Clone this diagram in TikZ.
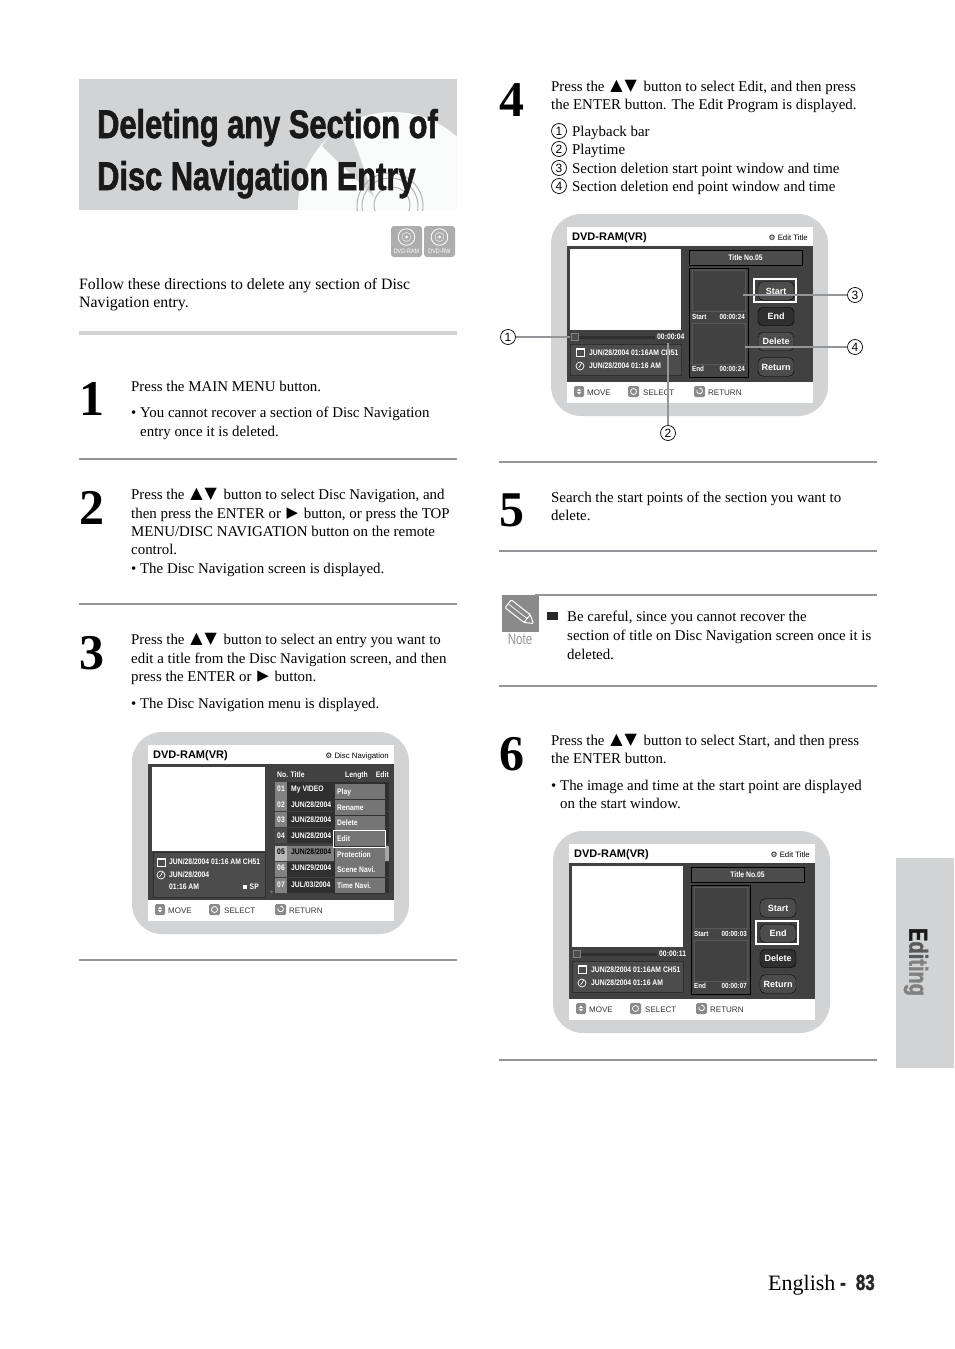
\documentclass[tikz,border=0pt]{standalone}
\usepackage{fontspec}
\usepackage{tikz}
\usepackage{xcolor}
\setmainfont{Liberation Serif}
\setsansfont{Liberation Sans}
\newfontfamily\symfont{DejaVu Sans}
\newfontfamily\condfont[FakeStretch=0.77,BoldFeatures={FakeBold=1.5}]{Liberation Sans}
\newfontfamily\scrfont[FakeStretch=0.85]{Liberation Sans}
\definecolor{bandgray}{HTML}{D1D3D4}
\definecolor{rulegray}{HTML}{939598}
\definecolor{panelgray}{HTML}{414141}
\definecolor{darkgray}{HTML}{2F2F2F}
\definecolor{midgray}{HTML}{4C4C4C}
\definecolor{keygray}{HTML}{8A8A8A}
\newcommand{\updown}{\hspace{2pt}\raisebox{1pt}{\symfont\fontsize{16}{16}\selectfont\char"25B2\hspace{2pt}\char"25BC}\hspace{3pt}}
\newcommand{\playmark}{\hspace{2pt}\raisebox{1pt}{\symfont\char"25B6}\hspace{2pt}}
% white page part of a screen, common to the three
\newcommand{\dvdframe}[2]{
  \fill[bandgray,rounded corners=30] (0,0) rectangle (277,202);
  \fill[white] (16,13) rectangle (262,189);
  \fill[panelgray] (16,32) rectangle (262,168);
  \node(#1title)[scr title] at (21,26) {DVD-RAM(VR)};
  \node(#1label)[scr label] at (257,26) {{\symfont\char"2699}\ #2};
  \fill[keygray,rounded corners=1.5] (23,172) rectangle (33,183);
  \fill[white] (28,174.5) -- (26,177) -- (30,177) -- cycle (28,180.5) -- (26,178) -- (30,178) -- cycle;
  \node(#1move)[scr foot] at (36,181) {MOVE};
  \fill[keygray,rounded corners=1.5] (77,172) rectangle (88,183);
  \draw[white,line width=.8] (82.5,177.5) circle (3);
  \node(#1select)[scr foot] at (92,181) {SELECT};
  \fill[keygray,rounded corners=1.5] (143,172) rectangle (154,183);
  \draw[white,line width=.8] (146,176) arc (200:-100:2.8);
  \node(#1return)[scr foot] at (157,181) {RETURN};
}
% little pictures in the info box
\newcommand{\calicon}[2]{
  \draw[white,line width=.7] (#1,#2) rectangle +(8,8);
  \fill[white] (#1,#2) rectangle +(8,2);
}
\newcommand{\clockicon}[2]{
  \draw[white,line width=.7] (#1,#2) circle (4);
  \draw[white,line width=.7] (#1,#2) -- +(1.5,-2.8) (#1,#2) -- +(-1.5,1.5);
}
% right part of the two Edit Title screens
\newcommand{\editpanel}[8]{
  \fill[white] (19,35) rectangle (130,116);
  \fill[darkgray] (27,122) rectangle (104,125);
  \draw[midgray!70!white,fill=midgray] (20,119.5) rectangle (27,126.5);
  \node(#1time)[scr small] at (106,125) {#2};
  \draw[darkgray,fill=midgray] (19,130) rectangle (130,161);
  \calicon{25}{134}
  \clockicon{29}{152}
  \node(#1infoa)[scr small] at (38,141) {JUN/28/2004 01:16AM CH51};
  \node(#1infob)[scr small] at (38,154) {JUN/28/2004 01:16 AM};
  \node(#1no)[scr head,minimum width=113,minimum height=15] at (194.5,43.5) {Title No.05};
  \draw[black,fill=darkgray!90!white] (138,54) rectangle (197,163);
  \draw[gray!70!black,line width=1,fill=panelgray] (141,56) rectangle (194,97);
  \draw[gray!70!black,line width=1,fill=panelgray] (141,109) rectangle (194,150);
  \node(#1start)[scr tiny] at (141,105) {Start};
  \node(#1startt)[scr tiny,anchor=base east] at (194,105) {#3};
  \node(#1end)[scr tiny] at (141,157) {End};
  \node(#1endt)[scr tiny,anchor=base east] at (194,157) {#4};
  \foreach \lab/\yy/\col in {Start/77/#5,End/102.5/#6,Delete/127.5/#7,Return/153/midgray}{
    \node(#1\lab)[scr btn,fill=\col] at (225,\yy) {\lab};
  }
  \draw[white,line width=1.5] (203,#8) rectangle +(42,23);
}
\begin{document}
\begin{tikzpicture}%
  [x=1pt,y=-1pt]
  \tikzstyle{body line}=[anchor=base west,inner sep=0,font=\fontsize{14.9}{17}\selectfont]
  \tikzstyle{big digit}=[anchor=base west,inner sep=0,font=\bfseries\fontsize{50}{50}\selectfont]
  \tikzstyle{head line}=[anchor=base west,inner sep=0,font=\condfont\bfseries\fontsize{40}{40}\selectfont,text=black!90]
  \tikzstyle{thin rule}=[draw=rulegray,line width=1.5]
  \tikzstyle{num node}=[circle,draw,line width=.7,inner sep=0,minimum size=15,font=\sffamily\fontsize{12}{12}\selectfont]
  \tikzstyle{lead line}=[draw=rulegray,line width=1.5]
  \tikzstyle{scr title}=[anchor=base west,inner sep=0,font=\sffamily\bfseries\fontsize{11}{11}\selectfont]
  \tikzstyle{scr label}=[anchor=base east,inner sep=0,font=\sffamily\fontsize{7.8}{8}\selectfont]
  \tikzstyle{scr foot}=[anchor=base west,inner sep=0,text=black!80,font=\sffamily\fontsize{8}{8}\selectfont]
  \tikzstyle{scr small}=[anchor=base west,inner sep=0,text=white,font=\scrfont\bfseries\fontsize{8}{8}\selectfont]
  \tikzstyle{scr tiny}=[anchor=base west,inner sep=0,text=white,font=\scrfont\bfseries\fontsize{7.4}{8}\selectfont]
  \tikzstyle{scr head}=[draw=black,fill=midgray,inner sep=0,text=white,font=\scrfont\bfseries\fontsize{8}{8}\selectfont]
  \tikzstyle{scr btn}=[draw=black,rounded corners=5,minimum width=36,minimum height=18.5,inner sep=0,text=white,font=\sffamily\bfseries\fontsize{9}{9}\selectfont]
  \useasboundingbox (0,0) rectangle (954,1349);
  \fill[white] (0,0) rectangle (954,1349);

  % heading band
  \fill[bandgray] (79,79) rectangle (457,210);
  \begin{scope}
    \clip (79,79) rectangle (457,210);
    \fill[white!90!bandgray] (393,207) circle (95);
    \fill[bandgray] (374,197) -- (322,146) -- (345,116) -- cycle;
    \draw[bandgray!85!black,line width=1] (390,206) circle (33) (390,206) circle (28) (392,205) circle (18);
  \end{scope}
  \node(headA)[head line] at (97,138) {Deleting any Section of};
  \node(headB)[head line] at (97,190) {Disc Navigation Entry};

  % disc badges
  \fill[keygray!70!white,rounded corners=3] (391,226) rectangle (422,257);
  \fill[keygray!70!white,rounded corners=3] (424,226) rectangle (455,257);
  \draw[white,line width=.8] (406.5,237) circle (8.3) (439.5,237) circle (8.3);
  \draw[white,line width=.4] (406.5,237) circle (4.5) (439.5,237) circle (4.5);
  \fill[white] (406.5,237) circle (1.5) (439.5,237) circle (1.5);
  \node(ram)[text=white,inner sep=0,font=\scrfont\fontsize{6.4}{6}\selectfont] at (406.5,251) {DVD-RAM};
  \node(rw)[text=white,inner sep=0,font=\scrfont\fontsize{6.4}{6}\selectfont] at (439.5,251) {DVD-RW};

  % left column
  \node(introA)[body line,font=\fontsize{15.8}{17}\selectfont] at (79,289) {Follow these directions to delete any section of Disc};
  \node(introB)[body line,font=\fontsize{15.8}{17}\selectfont] at (79,307) {Navigation entry.};
  \fill[bandgray] (79,331) rectangle (457,335);

  \node(one)[big digit] at (79,415) {1};
  \node(oneA)[body line] at (131,391) {Press the MAIN MENU button.};
  \node(oneB)[body line] at (131,417) {• You cannot recover a section of Disc Navigation};
  \node(oneC)[body line] at (140,436) {entry once it is deleted.};
  \draw[thin rule] (79,459) -- (457,459);

  \node(two)[big digit] at (79,524) {2};
  \node(twoA)[body line] at (131,499) {Press the \updown\ button to select Disc Navigation, and};
  \node(twoB)[body line] at (131,518) {then press the ENTER or \playmark\ button, or press the TOP};
  \node(twoC)[body line] at (131,536) {MENU/DISC NAVIGATION button on the remote};
  \node(twoD)[body line] at (131,554) {control.};
  \node(twoE)[body line] at (131,573) {• The Disc Navigation screen is displayed.};
  \draw[thin rule] (79,604) -- (457,604);

  \node(three)[big digit] at (79,669) {3};
  \node(threeA)[body line] at (131,644) {Press the \updown\ button to select an entry you want to};
  \node(threeB)[body line] at (131,663) {edit a title from the Disc Navigation screen, and then};
  \node(threeC)[body line] at (131,681) {press the ENTER or \playmark\ button.};
  \node(threeD)[body line] at (131,708) {• The Disc Navigation menu is displayed.};

  % screen of step 3
  \begin{scope}[shift={(132,732)}]
    \dvdframe{nav}{Disc Navigation}
    \fill[white] (20,35) rectangle (133,119);
    \draw[darkgray,fill=midgray] (21,120) rectangle (133,165);
    \calicon{25}{126}
    \clockicon{29}{143}
    \node(navinfoa)[scr small] at (37,132) {JUN/28/2004 01:16 AM CH51};
    \node(navinfob)[scr small] at (37,145) {JUN/28/2004};
    \node(navinfoc)[scr small] at (37,157) {01:16 AM};
    \node(navsp)[scr small,anchor=base east] at (127,157) {SP};
    \fill[white] (111,153) rectangle (115,157);
    \fill[gray] (138,159) -- (141,159) -- (139.5,161) -- cycle;
    \node(navno)[scr small] at (145,45) {No. Title};
    \node(navlen)[scr small] at (213,45) {Length};
    \node(navedit)[scr small,anchor=base east] at (257,45) {Edit};
    \foreach \no/\ttl/\yy/\bb/\cn/\ct/\ce in {01/My VIDEO/50/59/midgray!70!white/darkgray/white,
      02/{JUN/28/2004}/64/75/midgray!70!white/darkgray/white,
      03/{JUN/28/2004}/80/90/midgray!70!white/darkgray/white,
      04/{JUN/28/2004}/96/106/midgray/darkgray/white,
      05/{JUN/28/2004}/114/122/gray!55!white/gray/black,
      06/{JUN/29/2004}/130/138/midgray!70!white/darkgray/white,
      07/{JUL/03/2004}/146/155/midgray!70!white/darkgray/white}{
      \fill[\cn] (143,\yy) rectangle +(12,14.5);
      \fill[\ct] (155,\yy) rectangle +(102,14.5);
      \node(navn\no)[scr small,anchor=base,text=\ce] at (149,\bb) {\no};
      \node(navt\no)[scr small,text=\ce] at (159,\bb) {\ttl};
    }
    \fill[gray!70!white] (253,114) rectangle (257,129);
    \fill[darkgray] (202,51) rectangle (253,162);
    \foreach \item/\yy/\bb in {Play/52/62,Rename/68/78,Delete/84/93,Edit/99/109,Protection/115/125,Scene Navi./130/140,Time Navi./146/156}{
      \fill[keygray!85!black] (202.5,\yy) rectangle +(50,14.5);
      \node(navm\item)[scr small] at (205,\bb) {\item};
    }
    \draw[white,line width=1] (201,98) rectangle (253,115);
  \end{scope}
  \draw[thin rule] (79,960) -- (457,960);

  % right column
  \node(four)[big digit] at (499,116) {4};
  \node(fourA)[body line] at (551,91) {Press the \updown\ button to select Edit, and then press};
  \node(fourB)[body line] at (551,109) {the ENTER button. The Edit Program is displayed.};
  \node(listA)[num node] at (559,131) {1};
  \node(listB)[num node] at (559,149) {2};
  \node(listC)[num node] at (559,168) {3};
  \node(listD)[num node] at (559,186) {4};
  \node(listAt)[body line] at (572,136) {Playback bar};
  \node(listBt)[body line] at (572,154) {Playtime};
  \node(listCt)[body line] at (572,173) {Section deletion start point window and time};
  \node(listDt)[body line] at (572,191) {Section deletion end point window and time};

  % screen of step 4
  \begin{scope}[shift={(551,214)}]
    \dvdframe{del}{Edit Title}
    \editpanel{del}{00:00:04}{00:00:24}{00:00:24}{midgray}{darkgray}{midgray}{65}
    \coordinate (barend) at (19,124);
    \coordinate (timepnt) at (117,129);
    \coordinate (startpnt) at (192,81);
    \coordinate (endpnt) at (194,133);
  \end{scope}
  \node(mark1)[num node] at (508,337) {1};
  \node(mark2)[num node] at (668,433) {2};
  \node(mark3)[num node] at (855,295) {3};
  \node(mark4)[num node] at (855,347) {4};
  \draw[lead line] (mark1) -- (mark1 -| barend);
  \draw[lead line] (mark2) -- (mark2 |- timepnt);
  \draw[lead line] (mark3) -- (mark3 -| startpnt);
  \draw[lead line] (mark4) -- (mark4 -| endpnt);
  \draw[thin rule] (499,462) -- (877,462);

  \node(five)[big digit] at (499,526) {5};
  \node(fiveA)[body line] at (551,502) {Search the start points of the section you want to};
  \node(fiveB)[body line] at (551,520) {delete.};
  \draw[thin rule] (499,551) -- (877,551);

  % note
  \fill[keygray] (502,595) rectangle (539,632);
  \draw[thin rule] (535,595) -- (877,595);
  \begin{scope}[shift={(520,613)},rotate=-38]
    \draw[white,line width=1,rounded corners=1] (-15,-5) rectangle (9,5) (9,-5) -- (17,0) -- (9,5);
    \draw[white,line width=.7] (-15,0) -- (9,0);
  \end{scope}
  \node(noteword)[anchor=base,inner sep=0,text=rulegray,font=\condfont\fontsize{15}{15}\selectfont] at (520,644) {Note};
  \fill[black!85] (547,612) rectangle (558,620);
  \node(noteA)[body line] at (567,621) {Be careful, since you cannot recover the};
  \node(noteB)[body line] at (567,640) {section of title on Disc Navigation screen once it is};
  \node(noteC)[body line] at (567,659) {deleted.};
  \draw[thin rule] (499,686) -- (877,686);

  \node(six)[big digit] at (499,770) {6};
  \node(sixA)[body line] at (551,745) {Press the \updown\ button to select Start, and then press};
  \node(sixB)[body line] at (551,763) {the ENTER button.};
  \node(sixC)[body line] at (551,790) {• The image and time at the start point are displayed};
  \node(sixD)[body line] at (560,808) {on the start window.};

  % screen of step 6
  \begin{scope}[shift={(553,831)}]
    \dvdframe{sta}{Edit Title}
    \editpanel{sta}{00:00:11}{00:00:03}{00:00:07}{midgray}{midgray}{darkgray}{90}
  \end{scope}
  \draw[thin rule] (499,1060) -- (877,1060);

  % side tab and page number
  \fill[bandgray] (896,858) rectangle (954,1068);
  \node(tab)[rotate=-90,inner sep=0,font=\condfont\bfseries\fontsize{26}{26}\selectfont] at (916,962) {\textcolor{black!90}{E}\textcolor{black!65}{di}\textcolor{black!50}{ting}};
  \node(english)[body line,font=\fontsize{22}{22}\selectfont] at (768,1290) {English};
  \node(pageno)[anchor=base west,inner sep=0,font=\condfont\bfseries\fontsize{22}{22}\selectfont,text=black!85] at (840,1290) {-\hspace{10pt}83};
\end{tikzpicture}
\end{document}
